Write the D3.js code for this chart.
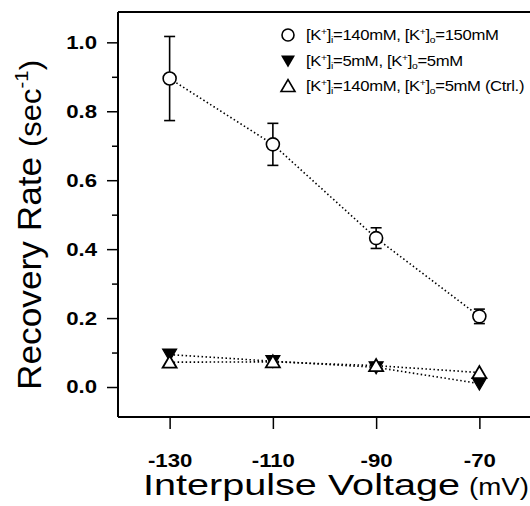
<!DOCTYPE html>
<html><head><meta charset="utf-8">
<script src="https://cdn.jsdelivr.net/npm/d3@7"></script>
<style>body{margin:0;background:#fff}svg{display:block}text{font-family:"Liberation Sans",Arial,sans-serif;fill:#000}</style>
</head><body><svg id="c" width="530" height="506"></svg>
<script>
const voltages = [-130, -110, -90, -70];
const highKo = [0.895, 0.704, 0.432, 0.205];
const highKoErr = [0.122, 0.061, 0.030, 0.021];
const lowKi = [0.094, 0.075, 0.057, 0.010];
const ctrl = [0.072, 0.073, 0.062, 0.042];
const xTicks = [-130, -110, -90, -70];
const yMajor = [0, 0.2, 0.4, 0.6, 0.8, 1.0];
const yMinor = [0.1, 0.3, 0.5, 0.7, 0.9];

const svg = d3.select("#c");
const x = d3.scaleLinear().domain([-140, -60]).range([118, 531]);
const y = d3.scaleLinear().domain([-0.087, 1.088]).range([417, 12]);
const SX = 1.2;

// frame
svg.append("line").attr("x1", 118).attr("x2", 530).attr("y1", 12).attr("y2", 12).attr("stroke", "#000").attr("stroke-width", 2);
const yAx = svg.append("g").attr("transform", "translate(118,0)")
  .call(d3.axisLeft(y).tickValues(yMajor).tickSize(11).tickPadding(10).tickFormat(d3.format(".1f")));
yAx.select(".domain").remove();
svg.append("line").attr("x1", 118).attr("x2", 118).attr("y1", 12).attr("y2", 417).attr("stroke", "#000").attr("stroke-width", 2);
svg.append("g").attr("transform", "translate(118,0)")
  .call(d3.axisLeft(y).tickValues(yMinor).tickSize(6).tickFormat(""))
  .select(".domain").remove();
const xAx = svg.append("g").attr("transform", "translate(0,417)")
  .call(d3.axisBottom(x).tickValues(xTicks).tickSize(12).tickPadding(38).tickFormat(d => d < 0 ? "-" + Math.abs(d) : d));
xAx.select(".domain").remove();
svg.append("line").attr("x1", 118).attr("x2", 530).attr("y1", 417).attr("y2", 417).attr("stroke", "#000").attr("stroke-width", 2);
svg.selectAll(".tick line").attr("stroke", "#000").attr("stroke-width", 1.5);
svg.selectAll(".tick text").attr("font-size", 18.5).attr("font-weight", "bold").style("font-family", '"Liberation Sans",Arial,sans-serif');
xAx.selectAll(".tick text").attr("dy", "0").attr("transform", `scale(${SX},1)`);
yAx.selectAll(".tick text").attr("x", -21 / SX).attr("transform", `scale(${SX},1)`);

// titles
const yt = svg.append("text").attr("transform", "translate(41,225) rotate(-90)").attr("text-anchor", "middle")
  .attr("font-size", 33).attr("textLength", 330).attr("lengthAdjust", "spacingAndGlyphs");
yt.append("tspan").text("Recovery Rate ");
yt.append("tspan").attr("font-size", 29).text("(sec");
yt.append("tspan").attr("font-size", 19).attr("dy", -13).text("-1");
yt.append("tspan").attr("font-size", 29).attr("dy", 13).text(")");
svg.append("text").attr("x", 143).attr("y", 495).attr("font-size", 30)
  .attr("textLength", 317).attr("lengthAdjust", "spacingAndGlyphs").text("Interpulse Voltage");
svg.append("text").attr("x", 469).attr("y", 495).attr("font-size", 23)
  .attr("textLength", 60).attr("lengthAdjust", "spacingAndGlyphs").text("(mV)");

// lines
const dotted = (vals) => d3.line().x((d, i) => x(voltages[i])).y(d => y(d))(vals);
[highKo, lowKi, ctrl].forEach(vals => {
  svg.append("path").attr("d", dotted(vals)).attr("fill", "none").attr("stroke", "#000")
    .attr("stroke-width", 1.6).attr("stroke-dasharray", "1.5,2.5");
});

// error bars
voltages.forEach((v, i) => {
  const cx = x(v), top = y(highKo[i] + highKoErr[i]), bot = y(highKo[i] - highKoErr[i]);
  const g = svg.append("g").attr("stroke", "#000").attr("stroke-width", 1.6);
  g.append("line").attr("x1", cx).attr("x2", cx).attr("y1", top).attr("y2", bot);
  g.append("line").attr("x1", cx - 5.5).attr("x2", cx + 5.5).attr("y1", top).attr("y2", top);
  g.append("line").attr("x1", cx - 5.5).attr("x2", cx + 5.5).attr("y1", bot).attr("y2", bot);
});

const triDown = (cx, cy) => `M${cx - 7},${cy - 5.5}L${cx + 7},${cy - 5.5}L${cx},${cy + 6.5}Z`;
const triUp = (cx, cy) => `M${cx - 7},${cy + 5.5}L${cx + 7},${cy + 5.5}L${cx},${cy - 6.5}Z`;

// markers
voltages.forEach((v, i) => {
  svg.append("path").attr("d", triDown(x(v), y(lowKi[i]))).attr("fill", "#000").attr("stroke", "#000").attr("stroke-width", 1.2);
});
voltages.forEach((v, i) => {
  svg.append("path").attr("d", triUp(x(v), y(ctrl[i]))).attr("fill", "#fff").attr("stroke", "#000").attr("stroke-width", 1.8);
});
voltages.forEach((v, i) => {
  svg.append("circle").attr("cx", x(v)).attr("cy", y(highKo[i])).attr("r", 6.5).attr("fill", "#fff").attr("stroke", "#000").attr("stroke-width", 1.6);
});

// legend
const legend = [
  {sym: "circle", ki: "140mM", ko: "150mM", extra: ""},
  {sym: "down", ki: "5mM", ko: "5mM", extra: ""},
  {sym: "up", ki: "140mM", ko: "5mM", extra: " (Ctrl.)"}
];
const ly = [35, 61, 86];
legend.forEach((d, i) => {
  const cy = ly[i], cx = 288;
  if (d.sym === "circle") svg.append("circle").attr("cx", cx).attr("cy", cy).attr("r", 6).attr("fill", "#fff").attr("stroke", "#000").attr("stroke-width", 1.6);
  else if (d.sym === "down") svg.append("path").attr("d", triDown(cx, cy)).attr("fill", "#000");
  else svg.append("path").attr("d", triUp(cx, cy)).attr("fill", "#fff").attr("stroke", "#000").attr("stroke-width", 1.6);
  const t = svg.append("text").attr("transform", `translate(306,${cy + 5}) scale(1.15,1)`).attr("font-size", 14.5).attr("letter-spacing", -0.3);
  t.append("tspan").text("[K");
  t.append("tspan").attr("font-size", 9).attr("dy", -5).text("+");
  t.append("tspan").attr("dy", 5).text("]");
  t.append("tspan").attr("font-size", 9).attr("dy", 3).text("i");
  t.append("tspan").attr("dy", -3).text("=" + d.ki + ", [K");
  t.append("tspan").attr("font-size", 9).attr("dy", -5).text("+");
  t.append("tspan").attr("dy", 5).text("]");
  t.append("tspan").attr("font-size", 9).attr("dy", 3).text("o");
  t.append("tspan").attr("dy", -3).text("=" + d.ko + d.extra);
});
</script></body></html>
